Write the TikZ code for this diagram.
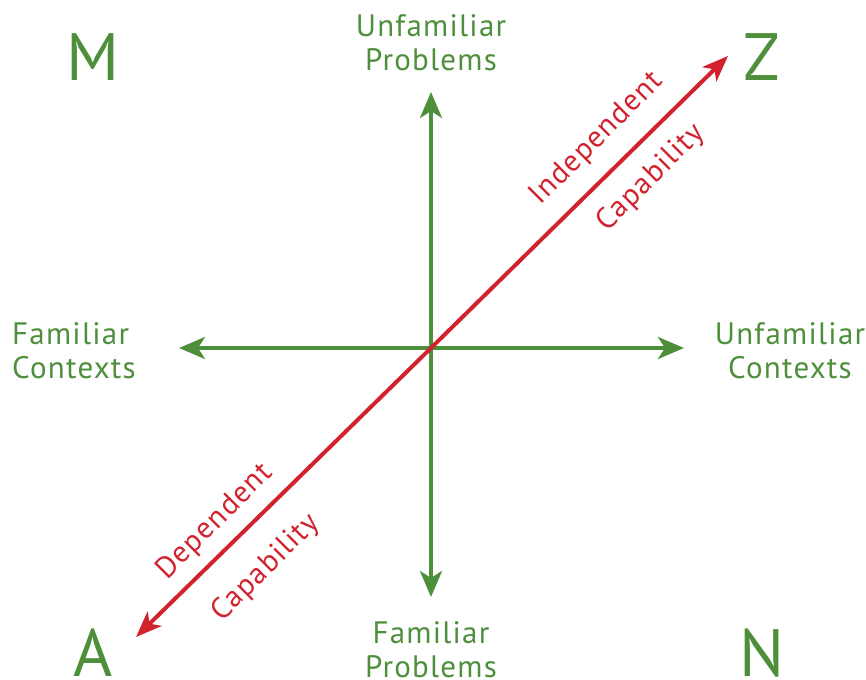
\documentclass[tikz,border=0pt]{standalone}
\usepackage{fontspec}
\setmainfont{PT Sans}[LetterSpace=4]
\usetikzlibrary{arrows.meta}
\definecolor{axisgreen}{RGB}{78,143,60}
\definecolor{capred}{RGB}{210,34,46}

\begin{document}
\begin{tikzpicture}[x=1pt,y=-1pt,
    axis/.style={axisgreen,line width=4pt,{Stealth[length=26pt,width=22pt,inset=7pt]}-{Stealth[length=26pt,width=22pt,inset=7pt]}},
    caparrow/.style={capred,line width=4pt,-{Stealth[length=26pt,width=20pt,inset=7pt]}},
    corner/.style={axisgreen,font=\fontsize{67}{67}\selectfont},
    axislabel/.style={axisgreen,align=center,font=\fontsize{31}{34}\selectfont},
    caplabel/.style={capred,rotate=45,font=\fontsize{30}{34}\selectfont}]
    \useasboundingbox (0,0) rectangle (866,679);
    % axes
    \coordinate (O) at (431,348);
    \coordinate (up) at (431,92);
    \coordinate (down) at (431,597);
    \coordinate (left) at (179,348);
    \coordinate (right) at (684,348);
    \draw[axis] (down) -- (up);
    \draw[axis] (left) -- (right);
    % capability
    \coordinate (dep) at (136,637);
    \coordinate (ind) at (728,56);
    \draw[caparrow] (O) -- (ind);
    \draw[caparrow] (O) -- (dep);
    % corners
    \node[corner] (M) at (93,57) {M};
    \node[corner] (Z) at (762,57) {Z};
    \node[corner] (A) at (93,653) {A};
    \node[corner] (N) at (762,653) {N};
    % axis labels
    \node[axislabel] (unprob) at (431,43) {Unfamiliar\\Problems};
    \node[axislabel] (faprob) at (431,650) {Familiar\\Problems};
    \node[axislabel,align=left,anchor=west,inner sep=0pt] (facont) at (12,351) {Familiar\\Contexts};
    \node[axislabel] (uncont) at (790,351) {Unfamiliar\\Contexts};
    % capability labels
    \node[caplabel] (indlab) at (597,139) {Independent};
    \node[caplabel] (indcap) at (651,178) {Capability};
    \node[caplabel] (deplab) at (215,522) {Dependent};
    \node[caplabel] (depcap) at (266,568) {Capability};
\end{tikzpicture}
\end{document}
